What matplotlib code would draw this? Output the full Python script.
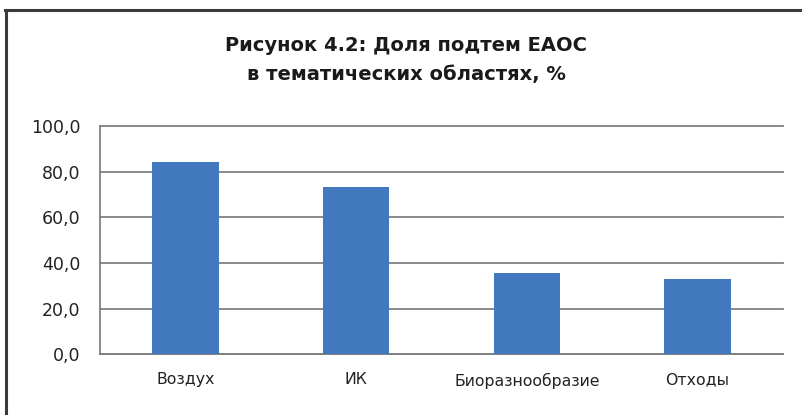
import matplotlib
matplotlib.use("Agg")
import matplotlib.pyplot as plt
from matplotlib.lines import Line2D

categories = ["Воздух", "ИК", "Биоразнообразие", "Отходы"]
values = [84.4, 73.4, 35.7, 33.0]
yticks = [0, 20, 40, 60, 80, 100]
ytick_labels = ["0,0", "20,0", "40,0", "60,0", "80,0", "100,0"]
title = "Рисунок 4.2: Доля подтем ЕАОС\nв тематических областях, %"

W, H = 802, 415
fig = plt.figure(figsize=(W / 100, H / 100), dpi=100)
plt.rcParams['font.family'] = ['DejaVu Sans']

ax = fig.add_axes([100 / W, (H - 354.3) / H, 683 / W, 228.3 / H])
x = list(range(len(categories)))
ax.bar(x, values, width=0.39, color="#4178BE", zorder=3)
ax.set_xlim(-0.5, len(categories) - 0.5)
ax.set_ylim(0, 100)
ax.set_yticks(yticks)
ax.set_yticklabels(ytick_labels)
ax.set_xticks(x)
ax.set_xticklabels(categories)
ax.grid(axis="y", color="#808080", linewidth=1.3, zorder=0)
for gl in ax.get_ygridlines():
    gl.set_clip_on(False)
ax.tick_params(axis="y", length=0, pad=14, labelsize=12.5, labelcolor="#222222")
ax.tick_params(axis="x", length=0, pad=13, labelsize=11.3, labelcolor="#222222")
for s in ["top", "right"]:
    ax.spines[s].set_visible(False)
for s in ["left", "bottom"]:
    ax.spines[s].set_color("#808080")
    ax.spines[s].set_linewidth(1.3)

fig.text(406 / W, 1 - 60 / H, title, ha="center", va="center", fontsize=14,
         fontweight="bold", color="#1a1a1a", linespacing=1.65)

# outer frame (left and top edges)
fig.add_artist(Line2D([5.5 / W, 5.5 / W], [0, 1 - 10.5 / H], color="#3a3a3a", linewidth=2.2,
                      transform=fig.transFigure))
fig.add_artist(Line2D([4.5 / W, 1], [1 - 10.5 / H, 1 - 10.5 / H], color="#3a3a3a", linewidth=2.2,
                      transform=fig.transFigure))

fig.savefig("out.png", dpi=100)
